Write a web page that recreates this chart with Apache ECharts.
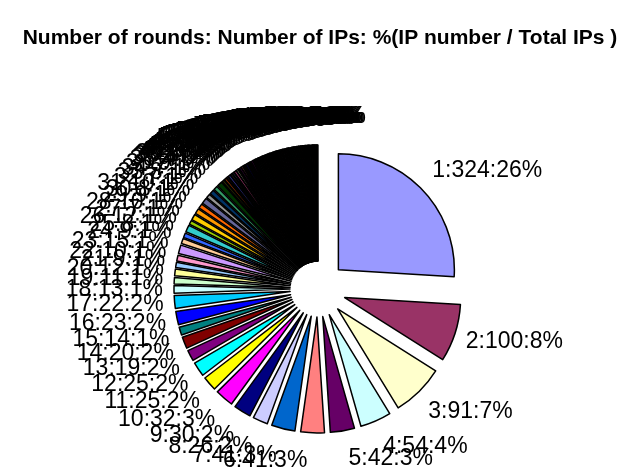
<!DOCTYPE html>
<html>
<head>
<meta charset="utf-8">
<script src="https://cdn.jsdelivr.net/npm/echarts@6/dist/echarts.min.js"></script>
<style>
html, body { margin: 0; padding: 0; background: #fff; }
#pie { width: 640px; height: 467px; }
</style>
</head>
<body>
<div id="pie"></div>
<script>
// number of rounds (category) and number of IPs seen with that many rounds
var rounds = [1, 2, 3, 4, 5, 6, 7, 8, 9, 10, 11, 12, 13, 14, 15, 16, 17, 18, 19, 20,
  21, 22, 23, 24, 25, 26, 27, 28, 29, 30, 31, 32, 33, 34, 35, 36, 37, 38, 39, 40,
  41, 42, 43, 44, 45, 46, 47, 48, 49, 50, 51, 52, 53, 54, 55, 56, 57, 58, 59, 60,
  61, 62, 63, 64, 65, 66, 67, 68, 69, 70, 71, 72, 73, 74, 75, 76, 77, 78, 79, 80,
  81, 82, 83, 84, 85, 86, 87, 88, 89, 90, 91, 92, 93, 94, 95, 96, 97, 98, 99, 100,
  101, 102, 103, 104, 105, 106, 107, 108, 109, 110, 111, 112, 113, 114, 115,
  116, 117, 118, 119, 120, 121, 122, 123, 124, 125, 126, 127, 128, 129, 130];

var ipCounts = [324, 100, 91, 54, 42, 41, 41, 26, 30, 32, 25, 25, 19, 20, 14, 23, 22,
  13, 11, 12, 9, 10, 15, 9, 8, 12, 7, 10, 9, 8, 10, 7, 8, 7, 9,
  4, 4, 3, 4, 3, 3, 4, 3, 2, 3,
  3, 2, 2, 3, 2, 2, 2, 3, 2, 2, 1, 2, 2, 1, 2,
  2, 1, 1, 2, 1, 1, 2, 1, 1, 1, 2, 1, 1, 1, 1, 2, 1, 1, 1, 1,
  1, 2, 1, 1, 1, 1, 1, 2, 1, 1, 1, 1, 1, 1, 2, 1, 1, 1, 1, 1, 1, 1, 2, 1, 1,
  1, 1, 1, 1, 1, 2, 1, 1, 1, 1, 1, 1, 1, 1, 1, 2, 1, 1, 1, 1, 1, 1, 1, 1, 1];

// old spreadsheet chart fill palette
var sliceColors = ['#9999FF', '#993366', '#FFFFCC', '#CCFFFF', '#660066', '#FF8080', '#0066CC', '#CCCCFF',
  '#000080', '#FF00FF', '#FFFF00', '#00FFFF', '#800080', '#800000', '#008080', '#0000FF',
  '#00CCFF', '#CCFFFF', '#CCFFCC', '#FFFF99', '#99CCFF', '#FF99CC', '#CC99FF', '#FFCC99',
  '#3366FF', '#33CCCC', '#99CC00', '#FFCC00', '#FF9900', '#FF6600', '#666699', '#969696',
  '#003366', '#339966', '#003300', '#333300', '#993300', '#993366', '#333399', '#333333'];

var total = ipCounts.reduce(function (a, b) { return a + b; }, 0);

var pieData = [];
var dirX = [], dirY = [];
var cum = 0;
for (var i = 0; i < rounds.length; i++) {
  var v = ipCounts[i];
  var mid = (cum + v / 2) / total * 2 * Math.PI;
  cum += v;
  dirX.push(Math.sin(mid));
  dirY.push(-Math.cos(mid));
  pieData.push({ name: String(rounds[i]), value: v, selected: true });
}

var dom = document.getElementById('pie');
var myChart = echarts.init(dom);

var option = {
  animation: false,
  color: sliceColors,
  title: {
    text: 'Number of rounds: Number of IPs: %(IP number / Total IPs )',
    left: 'center',
    top: 23,
    textStyle: {
      fontFamily: 'Liberation Sans',
      fontWeight: 'bold',
      fontSize: 21,
      color: '#000'
    }
  },
  series: [
    {
      type: 'pie',
      center: [318, 289],
      radius: [0, 116],
      startAngle: 90,
      clockwise: true,
      selectedMode: 'multiple',
      selectedOffset: 28,
      avoidLabelOverlap: false,
      itemStyle: { borderColor: '#000', borderWidth: 1.5 },
      emphasis: { disabled: true },
      label: {
        show: true,
        position: 'outside',
        color: '#000',
        fontFamily: 'Liberation Sans',
        fontSize: 23,
        formatter: function (p) {
          return p.name + ':' + p.value + ':' + Math.round(p.value / total * 100) + '%';
        }
      },
      labelLine: { show: false, length: 6, length2: 0 },
      labelLayout: function (params) {
        var k = params.dataIndex;
        var sx = dirX[k], sy = dirY[k];
        var dx = 0;
        // near the top the label boxes are centred over the rim
        if (sy < 0 && sx < 0) {
          var t = Math.max(0, 1 - Math.abs(sx) / 0.5);
          dx = t * (params.labelRect.width / 2 + 5);
        }
        return { hideOverlap: false, dx: dx, dy: sy * 22 };
      },
      data: pieData
    }
  ]
};

if (option && typeof option === 'object') {
  myChart.setOption(option, false);
}
</script>
</body>
</html>
